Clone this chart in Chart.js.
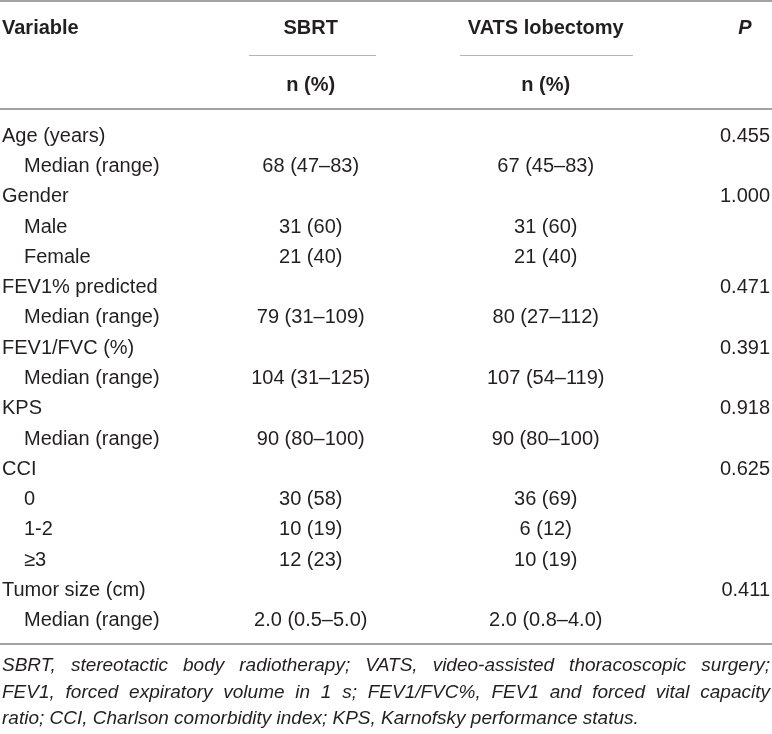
<!DOCTYPE html>
<html>
<head>
<meta charset="utf-8">
<title>Baseline characteristics</title>
<script src="https://cdn.jsdelivr.net/npm/chart.js@4.4.1/dist/chart.umd.min.js"></script>
<style>
    html, body { margin: 0; padding: 0; background: #fff; }
    #table { display: block; }
</style>
</head>
<body>
<canvas id="table" width="772" height="734"></canvas>
<script>
// table content
const rowLabels = [
    'Age (years)', 'Median (range)',
    'Gender', 'Male', 'Female',
    'FEV1% predicted', 'Median (range)',
    'FEV1/FVC (%)', 'Median (range)',
    'KPS', 'Median (range)',
    'CCI', '0', '1-2', '≥3',
    'Tumor size (cm)', 'Median (range)'
];
const rowLevels = [0, 1, 0, 1, 1, 0, 1, 0, 1, 0, 1, 0, 1, 1, 1, 0, 1];
const sbrtValues = [
    '', '68 (47–83)', '', '31 (60)', '21 (40)', '', '79 (31–109)', '', '104 (31–125)',
    '', '90 (80–100)', '', '30 (58)', '10 (19)', '12 (23)', '', '2.0 (0.5–5.0)'
];
const vatsValues = [
    '', '67 (45–83)', '', '31 (60)', '21 (40)', '', '80 (27–112)', '', '107 (54–119)',
    '', '90 (80–100)', '', '36 (69)', '6 (12)', '10 (19)', '', '2.0 (0.8–4.0)'
];
const pValues = [
    '0.455', '', '1.000', '', '', '0.471', '', '0.391', '',
    '0.918', '', '0.625', '', '', '', '0.411', ''
];
const headers = ['Variable', 'SBRT', 'VATS lobectomy', 'P'];
const subHeader = 'n (%)';
const footnote = [
    'SBRT, stereotactic body radiotherapy; VATS, video-assisted thoracoscopic surgery;',
    'FEV1, forced expiratory volume in 1 s; FEV1/FVC%, FEV1 and forced vital capacity',
    'ratio; CCI, Charlson comorbidity index; KPS, Karnofsky performance status.'
];

// layout: column anchors on a 0-100 x scale
const colX = [0, 40.2, 70.8, 100];
const colAlign = ['left', 'center', 'center', 'right'];
const FONT = '"Liberation Sans", Arial, sans-serif';
const TEXT = '#231f20';
const RULE = '#a3a3a3';

function column(values, idx) {
    return {
        label: headers[idx],
        data: values.map((v, i) => ({ x: colX[idx], y: rowLabels[i], t: v })),
        align: colAlign[idx],
        pointRadius: 0,
        pointHoverRadius: 0
    };
}

const cellText = {
    id: 'cellText',
    afterDatasetsDraw(chart) {
        const ctx = chart.ctx;
        const area = chart.chartArea;
        const xs = chart.scales.x;
        ctx.save();
        ctx.fillStyle = TEXT;
        ctx.textBaseline = 'middle';
        ctx.font = '20px ' + FONT;

        chart.data.datasets.forEach((ds, d) => {
            const meta = chart.getDatasetMeta(d);
            ctx.textAlign = ds.align;
            meta.data.forEach((pt, i) => {
                const txt = ds.data[i].t;
                if (!txt) return;
                const indent = d === 0 ? rowLevels[i] * 22 : 0;
                ctx.fillText(txt, pt.x + indent, pt.y);
            });
        });

        // header
        const top = area.top;
        const y1 = top - 93, y2 = top - 36;
        ctx.font = 'bold 20px ' + FONT;
        ctx.textAlign = 'left';
        ctx.fillText(headers[0], xs.getPixelForValue(colX[0]), y1);
        ctx.textAlign = 'center';
        [1, 2].forEach(c => {
            const cx = xs.getPixelForValue(colX[c]);
            ctx.fillText(headers[c], cx, y1);
            ctx.fillText(subHeader, cx, y2);
        });
        ctx.font = 'italic bold 20px ' + FONT;
        ctx.fillText(headers[3], xs.getPixelForValue(colX[3]) - 25, y1);

        // spanner lines under group headers
        ctx.strokeStyle = '#b5b5b5';
        ctx.lineWidth = 1;
        [[249, 376], [460, 633]].forEach(([a, b]) => {
            ctx.beginPath();
            ctx.moveTo(a, top - 65.5);
            ctx.lineTo(b, top - 65.5);
            ctx.stroke();
        });

        // rules
        ctx.strokeStyle = RULE;
        ctx.lineWidth = 2;
        [top - 120, top - 12, area.bottom + 8].forEach(y => {
            ctx.beginPath();
            ctx.moveTo(0, y);
            ctx.lineTo(chart.width, y);
            ctx.stroke();
        });

        // footnote, justified
        ctx.font = 'italic 19px ' + FONT;
        ctx.textAlign = 'left';
        const fx0 = area.left, fx1 = area.right;
        footnote.forEach((line, k) => {
            const y = area.bottom + 30 + k * 26.5;
            const words = line.split(' ');
            if (k === footnote.length - 1) {
                ctx.fillText(line, fx0, y);
                return;
            }
            const total = words.reduce((s, w) => s + ctx.measureText(w).width, 0);
            const gap = (fx1 - fx0 - total) / (words.length - 1);
            let x = fx0;
            words.forEach(w => {
                ctx.fillText(w, x, y);
                x += ctx.measureText(w).width + gap;
            });
        });
        ctx.restore();
    }
};

const config = {
    type: 'scatter',
    data: {
        datasets: [
            column(rowLabels, 0),
            column(sbrtValues, 1),
            column(vatsValues, 2),
            column(pValues, 3)
        ]
    },
    options: {
        responsive: false,
        animation: false,
        layout: {
            padding: { top: 121, bottom: 98, left: 2, right: 2 }
        },
        scales: {
            x: { type: 'linear', min: 0, max: 100, display: false },
            y: { type: 'category', labels: rowLabels, offset: true, display: false }
        },
        plugins: {
            legend: { display: false },
            tooltip: { enabled: false }
        },
        events: []
    },
    plugins: [cellText]
};

window.tableChart = new Chart(document.getElementById('table'), config);
</script>
</body>
</html>
